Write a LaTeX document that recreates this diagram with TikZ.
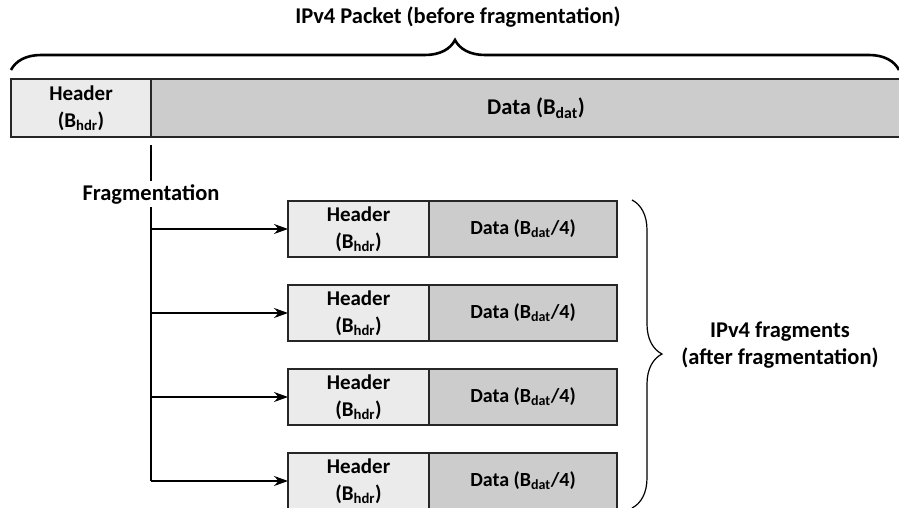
\documentclass[tikz,border=0pt]{standalone}
\usepackage{fontspec}
\setmainfont{Carlito}
\usetikzlibrary{positioning, arrows.meta, decorations.pathreplacing}
\definecolor{hdrgray}{HTML}{EBEBEB}
\definecolor{datgray}{HTML}{CCCCCC}
\tikzstyle{hdr} = [rectangle,
minimum width=141pt,
minimum height=56pt,
inner sep=0pt, outer sep=0pt,
align=center,
draw=black!85, line width=1.2pt,
fill=hdrgray,
font=\fontsize{21}{27}\selectfont\bfseries]
\tikzstyle{dat} = [rectangle,
minimum width=188pt,
minimum height=56pt,
inner sep=0pt, outer sep=0pt,
align=center,
draw=black!85, line width=1.2pt,
fill=datgray,
font=\fontsize{20}{24}\selectfont\bfseries]
\tikzstyle{label} = [align=center, font=\fontsize{22.5}{27}\selectfont\bfseries]
\tikzstyle{arrow} = [line width=1.2pt,-{Stealth[length=14pt,width=10pt]}]
\tikzstyle{brace} = [decorate, decoration={brace, amplitude=#1}]

\begin{document}
\begin{tikzpicture}[x=1pt, y=-1pt]
    \useasboundingbox (0,0) rectangle (899,508);
    \clip (0,0) rectangle (899,508);
    % packet before fragmentation
    \node (phdr) [hdr, minimum width=140pt, minimum height=58pt] at (81,108) {Header\\(B\textsubscript{hdr})};
    \node (pdat) [dat, minimum width=770pt, minimum height=58pt, right=0pt of phdr,
      font=\fontsize{22.5}{27}\selectfont\bfseries] {Data (B\textsubscript{dat})};
    \draw [brace=30pt, line width=2.6pt] (11,70) -- (899,70);
    \node (title) [label] at (458,17) {IPv4 Packet (before fragmentation)};

    % fragments
    \node (fhdr1) [hdr] at (358.5,229) {Header\\(B\textsubscript{hdr})};
    \node (fdat1) [dat, right=0pt of fhdr1] {Data (B\textsubscript{dat}/4)};
    \node (fhdr2) [hdr, below=28pt of fhdr1] {Header\\(B\textsubscript{hdr})};
    \node (fdat2) [dat, right=0pt of fhdr2] {Data (B\textsubscript{dat}/4)};
    \node (fhdr3) [hdr, below=28pt of fhdr2] {Header\\(B\textsubscript{hdr})};
    \node (fdat3) [dat, right=0pt of fhdr3] {Data (B\textsubscript{dat}/4)};
    \node (fhdr4) [hdr, below=28pt of fhdr3] {Header\\(B\textsubscript{hdr})};
    \node (fdat4) [dat, right=0pt of fhdr4] {Data (B\textsubscript{dat}/4)};
    \draw [brace=30pt, line width=1.2pt] (632,200) -- (632,508);
    \node (fraglist) [label] at (780,345) {IPv4 fragments\\(after fragmentation)};

    % split line
    \node (split) [label, inner sep=0pt, minimum height=26pt] at (151,194) {Fragmentation};
    \coordinate (c1) at (phdr.south east |- fhdr1.west);
    \coordinate (c2) at (phdr.south east |- fhdr2.west);
    \coordinate (c3) at (phdr.south east |- fhdr3.west);
    \coordinate (c4) at (phdr.south east |- fhdr4.west);
    \draw [line width=1.2pt] ([yshift=-8pt]phdr.south east) -- (split);
    \draw [line width=1.2pt] (split) -- (c4);
    \draw [arrow] (c1) -- (fhdr1);
    \draw [arrow] (c2) -- (fhdr2);
    \draw [arrow] (c3) -- (fhdr3);
    \draw [arrow] (c4) -- (fhdr4);
\end{tikzpicture}
\end{document}
